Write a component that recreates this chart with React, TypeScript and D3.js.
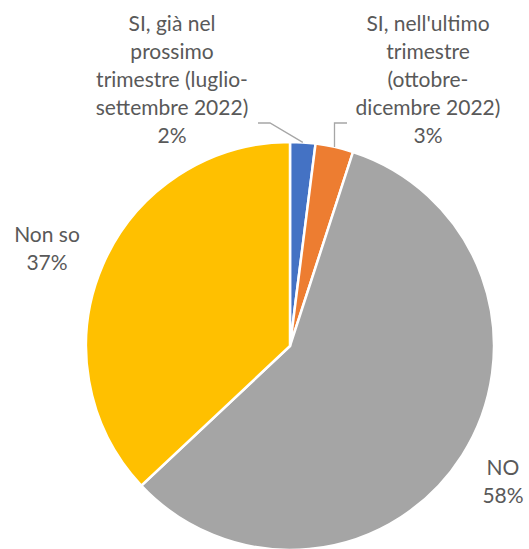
import React, { useEffect, useRef } from 'react';
import * as d3 from 'd3';

const categories = [
  'SI, già nel prossimo trimestre (luglio-settembre 2022)',
  "SI, nell'ultimo trimestre (ottobre-dicembre 2022)",
  'NO',
  'Non so',
];
const values = [2, 3, 58, 37];
const colors = ['#4472c4', '#ed7d31', '#a5a5a5', '#ffc000'];
// label lines as Excel wrapped them
const labelLines = [
  ['SI, già nel', 'prossimo', 'trimestre (luglio-', 'settembre 2022)'],
  ["SI, nell'ultimo", 'trimestre', '(ottobre-', 'dicembre 2022)'],
  ['NO'],
  ['Non so'],
];

const App = () => {
  const ref = useRef<SVGSVGElement>(null);

  useEffect(() => {
    const width = 529;
    const height = 549;
    const cx = 290;
    const cy = 346;
    const radius = 204;

    const svg = d3.select(ref.current);
    svg.selectAll('*').remove();

    const g = svg.append('g').attr('transform', `translate(${cx},${cy})`);

    const pie = d3.pie<number>().value(d => d).sort(null);
    const arcs = pie(values);
    const arc = d3.arc<d3.PieArcDatum<number>>().innerRadius(0).outerRadius(radius);

    g.selectAll('path.slice')
      .data(arcs)
      .enter()
      .append('path')
      .attr('class', 'slice')
      .attr('d', arc)
      .attr('fill', (d, i) => colors[i])
      .attr('stroke', '#fff')
      .attr('stroke-width', 2.5)
      .attr('stroke-linejoin', 'miter');

    // label placement (center of text block, relative to pie center)
    const labelPos = [
      { x: 172 - cx, y: 24 - cy },
      { x: 428 - cx, y: 24 - cy },
      { x: 503 - cx, y: 468 - cy },
      { x: 47 - cx, y: 235 - cy },
    ];
    const lineH = 28;

    const edge = (d: d3.PieArcDatum<number>) => {
      const a = (d.startAngle + d.endAngle) / 2;
      return [Math.sin(a) * radius, -Math.cos(a) * radius];
    };

    // leader lines for the two small slices
    const b = edge(arcs[0]);
    g.append('path')
      .attr('d', `M${258 - cx},${123 - cy}H${270 - cx}L${b[0]},${b[1]}`)
      .attr('fill', 'none')
      .attr('stroke', '#a6a6a6')
      .attr('stroke-width', 1.3);
    const o = edge(arcs[1]);
    g.append('path')
      .attr('d', `M${347 - cx},${123 - cy}H${o[0]}V${o[1]}`)
      .attr('fill', 'none')
      .attr('stroke', '#a6a6a6')
      .attr('stroke-width', 1.3);

    arcs.forEach((d, i) => {
      const lines = [...labelLines[i], `${values[i]}%`];
      const t = g.append('text')
        .attr('text-anchor', 'middle')
        .attr('font-family', 'Lato, "Open Sans", sans-serif')
        .attr('font-size', 21)
        .attr('fill', '#595959');
      lines.forEach((l, j) => {
        t.append('tspan')
          .attr('x', labelPos[i].x)
          .attr('y', labelPos[i].y + j * lineH)
          .attr('dy', '0.35em')
          .text(l);
      });
    });

    svg.attr('width', width).attr('height', height);
  }, []);

  return (
    <svg
      ref={ref}
      width={529}
      height={549}
      style={{ position: 'absolute', left: 0, top: 0, background: '#fff' }}
    />
  );
};

export default App;
